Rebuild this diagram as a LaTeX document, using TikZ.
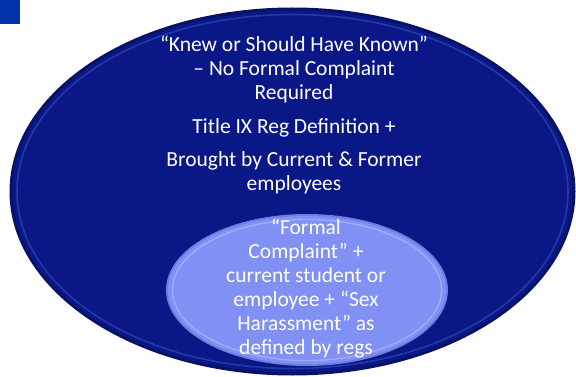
\documentclass[tikz,border=0pt]{standalone}
\usepackage{fontspec}
\setmainfont{Carlito}
\definecolor{navy}{RGB}{10,24,135}
\definecolor{navyedge}{RGB}{8,18,100}
\definecolor{navyrim}{RGB}{70,95,200}
\definecolor{peri}{RGB}{128,144,245}
\definecolor{periedge}{RGB}{110,125,225}
\definecolor{peririm}{RGB}{190,200,252}
\definecolor{sqblue}{RGB}{0,50,170}
\tikzset{
  txt/.style={text=white, align=center, font=\fontsize{21.5}{24}\selectfont, inner sep=0pt}
}
\begin{document}
\begin{tikzpicture}[x=1pt,y=-1pt]
\useasboundingbox (0,0) rectangle (576,377);
\fill[sqblue] (0,0) rectangle (20,24);
% outer ellipse
\fill[navyedge] (292.5,191.5) ellipse [x radius=283, y radius=184];
\fill[navy] (292.5,191.5) ellipse [x radius=280, y radius=181];
\draw[navyrim, line width=1.6pt, opacity=0.45] (292.5,191.5) ellipse [x radius=275.5, y radius=177];
% inner ellipse
\fill[periedge] (307,290) ellipse [x radius=141, y radius=76];
\fill[peri] (307,290) ellipse [x radius=139, y radius=74];
\draw[peririm, line width=1.4pt, opacity=0.5] (307,290) ellipse [x radius=134.5, y radius=70.5];
\node[txt] (t1) at (294,69) {“Knew or Should Have Known”\\– No Formal Complaint\\Required};
\node[txt] (t2) at (294,128) {Title IX Reg Definition +};
\node[txt] (t3) at (294,172.5) {Brought by Current \& Former\\employees};
\node[txt] (t4) at (306,289) {“Formal\\Complaint” +\\current student or\\employee + “Sex\\Harassment” as\\defined by regs};
\end{tikzpicture}
\end{document}
